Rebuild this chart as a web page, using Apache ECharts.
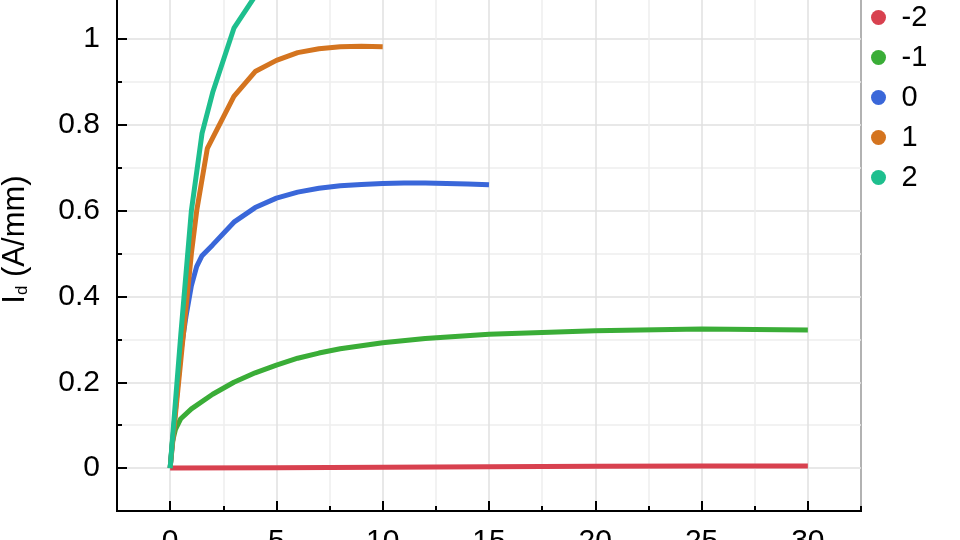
<!DOCTYPE html>
<html>
<head>
<meta charset="utf-8">
<script src="https://cdn.jsdelivr.net/npm/echarts@6/dist/echarts.min.js"></script>
<style>html,body{margin:0;padding:0;background:#fff;}#c{width:960px;height:540px;}</style>
</head>
<body>
<div id="c"></div>
<script>
var seriesNames = ['-2', '-1', '0', '1', '2'];
var seriesColors = ['#d8414f', '#3aad37', '#3a67d9', '#d4741f', '#1ebf8e'];

var xM2 = [0, 5, 10, 15, 20, 25, 30];
var yM2 = [0, 0.001, 0.002, 0.003, 0.004, 0.005, 0.005];

var xM1 = [0, 0.1, 0.25, 0.5, 1, 2, 3, 4, 5, 6, 7, 8, 10, 12, 15, 20, 25, 30];
var yM1 = [0, 0.06, 0.09, 0.115, 0.138, 0.172, 0.2, 0.222, 0.24, 0.256, 0.268, 0.278, 0.292, 0.302, 0.312, 0.32, 0.324, 0.322];

var x0 = [0, 0.5, 0.75, 1, 1.25, 1.5, 2, 3, 4, 5, 6, 7, 8, 9, 10, 11, 12, 13, 14, 15];
var y0 = [0, 0.27, 0.355, 0.425, 0.47, 0.495, 0.52, 0.573, 0.607, 0.629, 0.643, 0.652, 0.658, 0.661, 0.663, 0.664, 0.664, 0.663, 0.662, 0.66];

var xP1 = [0, 0.5, 1, 1.25, 1.75, 3, 4, 5, 6, 7, 8, 9, 10];
var yP1 = [0, 0.25, 0.5, 0.6, 0.745, 0.866, 0.924, 0.95, 0.968, 0.977, 0.982, 0.983, 0.982];

var xP2 = [0, 0.5, 1, 1.5, 2, 3, 4, 5];
var yP2 = [0, 0.31, 0.6, 0.78, 0.875, 1.025, 1.1, 1.15];

var xTicks = [0, 5, 10, 15, 20, 25, 30];
var yTicks = [0, 0.2, 0.4, 0.6, 0.8, 1];

function pairs(xs, ys) { return xs.map(function (x, i) { return [x, ys[i]]; }); }
var allX = [xM2, xM1, x0, xP1, xP2];
var allY = [yM2, yM1, y0, yP1, yP2];

var chart = echarts.init(document.getElementById('c'), null, { renderer: 'canvas' });
var font = 'Liberation Sans, Arial, Helvetica, sans-serif';

var series = seriesNames.map(function (n, i) {
  return {
    name: n, type: 'line', xAxisIndex: 0, yAxisIndex: 0,
    data: pairs(allX[i], allY[i]),
    showSymbol: false, symbol: 'circle', smooth: false,
    lineStyle: { width: 5, color: seriesColors[i] },
    itemStyle: { color: seriesColors[i] },
    clip: true, animation: false
  };
});

chart.setOption({
  animation: false,
  backgroundColor: '#fff',
  grid: { left: 117, right: 99, top: -4, bottom: 29, show: true, borderColor: '#000', borderWidth: 2, containLabel: false, outerBoundsMode: 'none' },
  legend: {
    data: seriesNames, orient: 'vertical', left: 866, top: -2,
    icon: 'circle', itemWidth: 36, itemHeight: 15, itemGap: 11,
    textStyle: { fontSize: 29, color: '#000', fontFamily: font }
  },
  xAxis: [
    {
      type: 'value', min: -2.5, max: 32.5, interval: 2.5,
      axisLine: { show: true, onZero: false, lineStyle: { color: '#000', width: 2 } },
      axisTick: { show: true, inside: true, length: 5, lineStyle: { color: '#000', width: 2 } },
      axisLabel: { show: false },
      splitLine: { show: true, lineStyle: { color: ['#eeeeee', '#e0e0e0'], width: 1.5 } }
    },
    {
      type: 'value', min: -2.5, max: 32.5, position: 'bottom',
      axisLine: { show: false, onZero: false },
      axisTick: { show: true, inside: true, length: 10, customValues: xTicks, lineStyle: { color: '#000', width: 2 } },
      axisLabel: { show: true, customValues: xTicks, fontSize: 30, color: '#000', fontFamily: font, margin: 16 },
      splitLine: { show: false }
    }
  ],
  yAxis: [
    {
      type: 'value', min: -0.1, max: 1.1, interval: 0.1,
      axisLine: { show: true, onZero: false, lineStyle: { color: '#000', width: 2 } },
      axisTick: { show: true, inside: true, length: 5, lineStyle: { color: '#000', width: 2 } },
      axisLabel: { show: false },
      splitLine: { show: true, lineStyle: { color: ['#eeeeee', '#e0e0e0'], width: 1.5 } },
      name: '{a|I}{b|d} (A/mm)', nameLocation: 'middle', nameRotate: 90, nameGap: 86,
      nameTextStyle: {
        fontSize: 31, color: '#000', fontFamily: font, padding: [0, 0, 0, 28],
        rich: {
          a: { fontSize: 31, color: '#000', fontFamily: font },
          b: { fontSize: 17, color: '#000', fontFamily: font, verticalAlign: 'bottom', padding: [12, 0, 0, 0] }
        }
      }
    },
    {
      type: 'value', min: -0.1, max: 1.1, position: 'left',
      axisLine: { show: false, onZero: false },
      axisTick: { show: true, inside: true, length: 10, customValues: yTicks, lineStyle: { color: '#000', width: 2 } },
      axisLabel: { show: true, customValues: yTicks, fontSize: 30, color: '#000', fontFamily: font, margin: 17 },
      splitLine: { show: false }
    }
  ],
  series: series
});
</script>
</body>
</html>
